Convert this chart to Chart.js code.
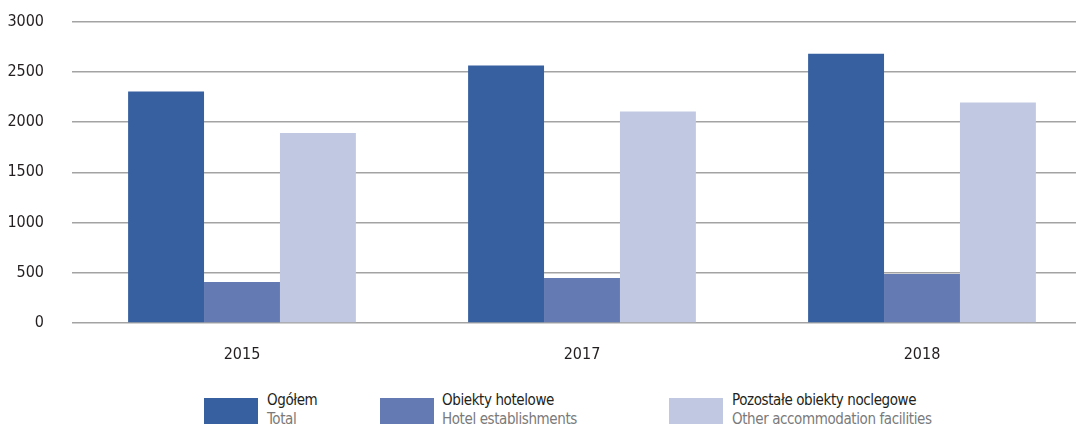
<!DOCTYPE html>
<html>
<head>
<meta charset="utf-8">
<script src="https://cdn.jsdelivr.net/npm/chart.js@4/dist/chart.umd.min.js"></script>
<style>
  body { margin: 0; background: #fff; width: 1076px; height: 431px; overflow: hidden; position: relative; }
  #wrap { position: absolute; left: 0; top: -16px; width: 1092px; height: 396px; }
  .leg-box { position: absolute; top: 398px; width: 54px; height: 26px; }
  .leg-text { position: absolute; top: 391px; font-family: "Liberation Sans Narrow", "DejaVu Sans Condensed", sans-serif; font-size: 15px; letter-spacing: -0.4px; line-height: 19px; white-space: nowrap; }
  .leg-text .pl { color: #231f20; }
  .leg-text .en { color: #7a7a7a; }
</style>
</head>
<body>
<div id="wrap"><canvas id="chart" width="1092" height="396"></canvas></div>
<div id="legend"></div>
<script>
// ---------------- DATA ----------------
const years = ["2015", "2017", "2018"];
const seriesNamesPl = ["Ogółem", "Obiekty hotelowe", "Pozostałe obiekty noclegowe"];
const seriesNamesEn = ["Total", "Hotel establishments", "Other accommodation facilities"];
const totalValues = [2305, 2562, 2681];
const hotelValues = [408, 448, 488];
const otherValues = [1890, 2105, 2195];
const yTicks = [0, 500, 1000, 1500, 2000, 2500, 3000];

const colors = ["#3760a0", "#647ab2", "#c1c9e2"];
const fontFamily = '"Liberation Sans Narrow", "DejaVu Sans Condensed", sans-serif';

// ---------------- CHART ----------------
const allSeries = [totalValues, hotelValues, otherValues];

const ctx = document.getElementById("chart").getContext("2d");
const myChart = new Chart(ctx, {
  type: "bar",
  data: {
    labels: years,
    datasets: allSeries.map((vals, i) => ({
      label: seriesNamesPl[i],
      data: vals,
      backgroundColor: colors[i],
      borderWidth: 0,
      categoryPercentage: 0.67,
      barPercentage: 1.0,
    })),
  },
  options: {
    responsive: false,
    animation: false,
    layout: { padding: { top: 5, left: 0, right: 0, bottom: 0 } },
    plugins: {
      legend: { display: false },
      tooltip: { enabled: false },
    },
    scales: {
      x: {
        grid: { display: false },
        border: { display: false },
        ticks: {
          color: "#231f20",
          font: { family: fontFamily, size: 16 },
          padding: 14,
        },
        afterFit: (s) => { s.height = 57; },
      },
      y: {
        min: 0,
        max: 3000,
        afterBuildTicks: (s) => { s.ticks = yTicks.map((v) => ({ value: v })); },
        grid: { color: "#a3a3a3", lineWidth: 1.5, drawTicks: false },
        border: { display: false },
        ticks: {
          color: "#231f20",
          font: { family: fontFamily, size: 16 },
          padding: 28,
          callback: (v) => String(v),
        },
        afterFit: (s) => { s.width = 72; },
      },
    },
  },
});

// ---------------- LEGEND ----------------
const legendBoxX = [204, 380, 669];
const legendTextX = [267, 442, 732];
const legend = document.getElementById("legend");
seriesNamesPl.forEach((name, i) => {
  const box = document.createElement("div");
  box.className = "leg-box";
  box.style.left = legendBoxX[i] + "px";
  box.style.background = colors[i];
  legend.appendChild(box);

  const txt = document.createElement("div");
  txt.className = "leg-text";
  txt.style.left = legendTextX[i] + "px";
  txt.innerHTML = '<div class="pl">' + name + '</div><div class="en">' + seriesNamesEn[i] + "</div>";
  legend.appendChild(txt);
});
</script>
</body>
</html>
